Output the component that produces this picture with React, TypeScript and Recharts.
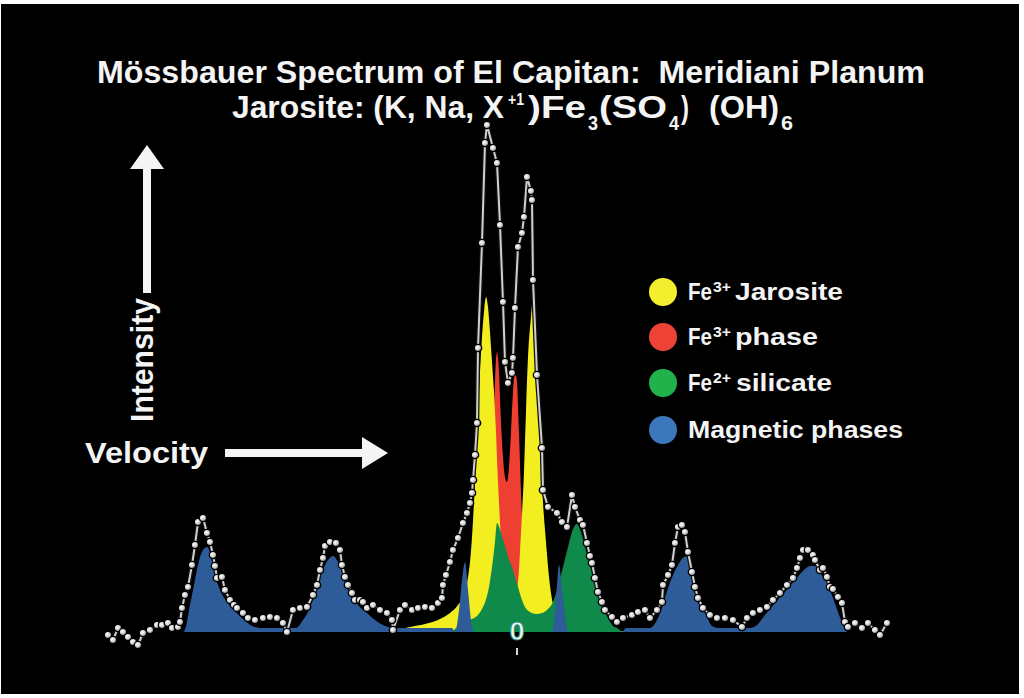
import { Area, ComposedChart, Line, XAxis, YAxis } from "recharts"

// Doppler velocity (mm/s) and counts above baseline
const VELOCITY = [
  -10.2, -10.075, -9.95, -9.825, -9.7, -9.575, -9.45, -9.325, -9.15, -8.975,
  -8.85, -8.7, -8.6, -8.45, -8.4, -8.35, -8.275, -8.2, -8.1, -8.025,
  -7.95, -7.825, -7.725, -7.65, -7.575, -7.525, -7.475, -7.35, -7.275, -7.15,
  -7.05, -6.975, -6.825, -6.7, -6.525, -6.325, -6.15, -5.975, -5.825, -5.725,
  -5.575, -5.4, -5.225, -5.075, -4.975, -4.9, -4.825, -4.775, -4.65, -4.5,
  -4.4, -4.35, -4.275, -4.2, -4.1, -4.025, -3.9, -3.825, -3.725, -3.575,
  -3.4, -3.225, -3.1, -3.075, -2.9, -2.775, -2.6, -2.45, -2.275, -2.1,
  -1.95, -1.85, -1.825, -1.75, -1.65, -1.575, -1.45, -1.325, -1.225, -1.15,
  -1.1, -1.075, -1.025, -0.975, -0.95, -0.85, -0.775, -0.725, -0.575, -0.475,
  -0.4, -0.325, -0.275, -0.2, -0.1, -0.075, -0.025, 0.05, 0.15, 0.2,
  0.275, 0.375, 0.4, 0.425, 0.525, 0.65, 0.675, 0.8, 1.025, 1.15,
  1.275, 1.4, 1.475, 1.6, 1.675, 1.775, 1.85, 1.9, 1.975, 2.05,
  2.15, 2.225, 2.4, 2.525, 2.675, 2.9, 3.05, 3.225, 3.35, 3.525,
  3.65, 3.675, 3.8, 3.9, 3.975, 4.05, 4.15, 4.225, 4.3, 4.4,
  4.475, 4.55, 4.675, 4.85, 5.025, 5.225, 5.425, 5.65, 5.775, 5.925,
  6.1, 6.275, 6.425, 6.6, 6.775, 6.925, 7.025, 7.1, 7.175, 7.3,
  7.425, 7.475, 7.6, 7.675, 7.775, 7.85, 7.925, 8.05, 8.15, 8.225,
  8.3, 8.475, 8.65, 8.8, 8.975, 9.1, 9.275,
]
const COUNTS = [
  -0.6, -1.6, 0.8, 0, -1, -2, -2.6, -0.2, 0.4, 1.4,
  1.4, 1.8, 0.8, 1, 2, 4.8, 7.4, 9, 13.4, 17.4,
  22, 22.8, 19.8, 18, 15.4, 13.2, 10.8, 11, 8.4, 6.4,
  5.4, 4.8, 3.8, 2.8, 2.4, 2.8, 3, 2.8, 1.8, 0,
  4.4, 4.8, 5, 7.4, 9.4, 12.4, 14.8, 17.2, 18, 17.8,
  16.4, 13.4, 11, 9.4, 7.8, 6.4, 6.4, 6, 4.8, 5.4,
  4.4, 3.8, 2.4, 0.4, 4.4, 5.4, 4.4, 4.8, 5, 4.8,
  5.8, 6.8, 9.4, 11.4, 14, 16.4, 18.8, 21.8, 23.8, 25.8,
  27.8, 30.4, 35.4, 41.8, 56.8, 77.8, 97.8, 101.4, 96.8, 93.8,
  81.4, 66, 54, 49.8, 51.8, 54.8, 64.8, 77, 79.8, 83,
  91, 88.2, 86.4, 70.4, 51.4, 36.8, 28.4, 25, 23.8, 22,
  21, 27.4, 25, 22.4, 21.4, 17.8, 15.2, 13.8, 10.8, 8,
  6, 4.4, 3, 2, 2.8, 3.4, 4, 4.4, 2.8, 4.4,
  6, 9.4, 11.4, 13.4, 17.8, 21, 21.4, 20, 16, 12,
  9, 6.8, 4.8, 3.4, 2.8, 2.8, 2.4, 1, 2.8, 3.8,
  4.4, 5, 6.4, 7.8, 9.4, 10.8, 12.8, 14.8, 16.4, 16.4,
  15.4, 14.4, 12.4, 12.8, 11, 9, 8.6, 7, 5.8, 2,
  1, 1.8, 0.8, 1.8, 0.4, -0.6, 1.8,
]

// fitted sub-spectra
const MAGNETIC_V = [
  -8.3, -8.25, -8.15, -8.05, -7.95, -7.825, -7.725, -7.625, -7.525, -7.4, -7.2, -7.0, -6.8, -6.6, -6.4,
  -5.5, -5.325, -5.15, -5.0, -4.85, -4.7, -4.575, -4.45, -4.325, -4.15, -3.95, -3.725, -3.525, -3.275, -3.025,
  -1.6, -1.525, -1.425, -1.35, -1.275, -1.2, -1.125, -1.05,
  0.9, 0.975, 1.025, 1.075, 1.15, 1.225, 1.3,
  2.65, 2.75,
  3.35, 3.525, 3.675, 3.8, 3.925, 4.05, 4.2, 4.3, 4.4, 4.525, 4.65, 4.775, 4.9, 5.05,
  5.85, 6.025, 6.225, 6.475, 6.725, 6.975, 7.175, 7.35, 7.475, 7.6, 7.775, 7.925, 8.05, 8.175, 8.275,
]
const MAGNETIC_I = [
  0, 1.2, 5.4, 9.4, 13.4, 16.4, 17, 15.2, 11.4, 8.4, 5.8, 4, 2.4, 1.2, 0.8,
  0.8, 2.4, 4.8, 8.4, 12, 14.4, 15.2, 14, 11.4, 8, 5.4, 3.8, 2.4, 1.2, 0.8,
  0.8, 0, 4.4, 10.4, 14, 8.4, 2.4, 0,
  0, 4.4, 9.4, 13.4, 8.4, 3.4, 0,
  0, 0.8,
  0.8, 2.4, 5.4, 8.8, 11.4, 13.4, 15, 15.2, 12, 8.4, 5.4, 3, 1.2, 0.8,
  0.8, 1.4, 3.4, 5.8, 8, 10.4, 12.2, 13.2, 13.2, 11.8, 9.8, 6.8, 4, 1.4, 0,
]

const JAROSITE_V = [
  -3.275, -3.025, -2.65, -2.275, -1.9, -1.65, -1.45, -1.275, -1.2, -1.15,
  -1.1, -1.05, -1.0, -0.95, -0.9, -0.85, -0.8, -0.75, -0.7, -0.65,
  -0.6, -0.55, -0.5, -0.45, -0.4, -0.35, -0.275, -0.2, -0.1, -0.025,
  0.05, 0.125, 0.2, 0.25, 0.3, 0.375, 0.425, 0.475, 0.525, 0.575,
  0.625, 0.675, 0.75, 0.825, 0.9, 1.0, 1.15, 1.4, 1.85, 2.35,
  2.85,
]
const JAROSITE_I = [
  0, 0.4, 1.0, 1.6, 2.6, 3.8, 5.4, 8, 11, 14,
  19, 26, 34, 44, 52, 59, 64, 67, 65, 60,
  54, 48, 40, 30, 22, 15, 10, 7.5, 6.4, 7.5,
  10, 20, 32, 44, 55, 63, 66.8, 63, 54, 44,
  34, 26, 18, 11, 6.5, 4.2, 3, 1.8, 0.8, 0.3,
  0,
]

const FE3_PHASE_V = [
  -1.9, -1.15, -0.9, -0.75, -0.65, -0.575, -0.525, -0.475, -0.425, -0.375,
  -0.325, -0.275, -0.225, -0.175, -0.125, -0.075, -0.025, 0.025, 0.075, 0.125,
  0.2, 0.3, 0.475, 0.725, 1.1, 1.6, 2.1,
]
const FE3_PHASE_I = [
  0, 3, 6, 10, 18, 35, 50, 56, 52, 42,
  35, 31, 30, 33, 40, 48, 52, 50, 40, 28,
  16, 9, 5, 3, 1.6, 0.8, 0,
]

const SILICATE_V = [
  -1.6, -1.5, -1.35, -1.2, -1.05, -0.95, -0.85, -0.75, -0.675, -0.6,
  -0.525, -0.475, -0.4, -0.325, -0.25, -0.175, -0.1, -0.025, 0.05, 0.125,
  0.225, 0.35, 0.5, 0.65, 0.8, 0.925, 1.05, 1.175, 1.3, 1.4,
  1.525, 1.625, 1.725, 1.825, 1.925, 2.025, 2.125, 2.225, 2.325, 2.425,
  2.525, 2.65,
]
const SILICATE_I = [
  0, 0.8, 1.6, 2.2, 2.8, 3.4, 4.6, 6.5, 9, 13,
  18, 21.8, 20.5, 18.5, 16.5, 14.5, 13, 11, 9, 7,
  5, 4, 3.6, 3.8, 4.6, 6, 9, 13, 17, 20,
  21.6, 20, 17, 14, 11.4, 8.4, 6, 4, 2.4, 1.2,
  0.8, 0,
]

const VELOCITY_TICKS = [0]

const LEGEND_ITEMS = [
  { color: "#f4ef2e", sup: "3+", text: "Jarosite" },
  { color: "#ef4236", sup: "3+", text: "phase" },
  { color: "#22b24c", sup: "2+", text: "silicate" },
  { color: "#3c77bb", sup: "", text: "Magnetic phases" },
]

const FONT = '"Liberation Sans", Arial, Helvetica, sans-serif'

const rows = (vs: number[], is: number[]) => vs.map((v, k) => ({ v, i: is[k] }))

const spectrum = rows(VELOCITY, COUNTS)
const magnetic = rows(MAGNETIC_V, MAGNETIC_I)
const jarosite = rows(JAROSITE_V, JAROSITE_I)
const fe3Phase = rows(FE3_PHASE_V, FE3_PHASE_I)
const silicate = rows(SILICATE_V, SILICATE_I)

const renderDot = (p: any) => {
  if (p.cx == null || p.cy == null) return <g key={`pt-${p.index}`} />
  return (
    <circle
      key={`pt-${p.index}`}
      cx={p.cx}
      cy={p.cy}
      r={3.7}
      fill="url(#dotShade)"
      stroke="#000"
      strokeWidth={1.3}
    />
  )
}

function ZeroTick({ x, y, payload }: any) {
  return (
    <g>
      <text
        x={x + 1}
        y={y - 12}
        textAnchor="middle"
        fontFamily={FONT}
        fontWeight={700}
        fontSize={26}
        textLength={15}
        lengthAdjust="spacingAndGlyphs"
        fill="#f2faf6"
        stroke="#2f8c78"
        strokeWidth={1}
      >
        {payload.value}
      </text>
      <line x1={x + 1} x2={x + 1} y1={y - 4} y2={y + 3} stroke="#d6d6d6" strokeWidth={2} />
    </g>
  )
}

const white = "#f4f4f4"

export default function App() {
  const legendRows = [292, 337, 383, 430]
  const restX = [735, 735, 736, 688]
  const restW = [108, 83, 96, 215]
  return (
    <div
      style={{
        position: "fixed",
        left: 0,
        top: 0,
        width: 1024,
        height: 698,
        background: "#fff",
        overflow: "hidden",
      }}
    >
      <div
        style={{ position: "absolute", left: 1, top: 4, width: 1018, height: 690, background: "#000" }}
      />
      <div style={{ position: "absolute", left: 0, top: 0 }}>
        <ComposedChart
          width={1024}
          height={698}
          margin={{ top: 100, right: 124, bottom: 45, left: 100 }}
        >
          <XAxis
            dataKey="v"
            type="number"
            domain={[-10.4, 9.6]}
            allowDataOverflow
            ticks={VELOCITY_TICKS}
            interval={0}
            height={1}
            axisLine={false}
            tickLine={false}
            tickSize={0}
            tickMargin={0}
            tick={<ZeroTick />}
          />
          <YAxis type="number" domain={[-4, 106.4]} allowDataOverflow hide />
          <Area
            data={fe3Phase}
            dataKey="i"
            type="monotone"
            baseValue={0}
            fill="#ef3e32"
            fillOpacity={1}
            stroke="none"
            isAnimationActive={false}
          />
          <Area
            data={jarosite}
            dataKey="i"
            type="monotone"
            baseValue={0}
            fill="#f3ee20"
            fillOpacity={1}
            stroke="none"
            isAnimationActive={false}
          />
          <Area
            data={silicate}
            dataKey="i"
            type="monotone"
            baseValue={0}
            fill="#0f8a4a"
            fillOpacity={1}
            stroke="none"
            isAnimationActive={false}
          />
          <Area
            data={magnetic}
            dataKey="i"
            type="monotone"
            baseValue={0}
            fill="#2e5c99"
            fillOpacity={1}
            stroke="none"
            isAnimationActive={false}
          />
          <Line
            data={spectrum}
            dataKey="i"
            type="linear"
            stroke="#101010"
            strokeWidth={4.5}
            dot={false}
            activeDot={false}
            isAnimationActive={false}
          />
          <Line
            data={spectrum}
            dataKey="i"
            type="linear"
            stroke="#cfcfcf"
            strokeWidth={2}
            dot={renderDot}
            activeDot={false}
            isAnimationActive={false}
          />
        </ComposedChart>
      </div>
      <svg
        width={1024}
        height={698}
        style={{ position: "absolute", left: 0, top: 0, pointerEvents: "none" }}
        fontFamily={FONT}
        fontWeight={700}
        fill={white}
      >
        <defs>
          <radialGradient id="dotShade" cx="40%" cy="38%" r="65%">
            <stop offset="0%" stopColor="#ffffff" />
            <stop offset="55%" stopColor="#cfcfcf" />
            <stop offset="100%" stopColor="#5a5a5a" />
          </radialGradient>
        </defs>

        {/* title */}
        <text x={97} y={83} fontSize={31} textLength={828} lengthAdjust="spacingAndGlyphs" style={{ whiteSpace: "pre" }}>
          Mössbauer Spectrum of El Capitan:  Meridiani Planum
        </text>
        <text x={232} y={118} fontSize={31} textLength={272} lengthAdjust="spacingAndGlyphs">
          Jarosite: (K, Na, X
        </text>
        <text x={508} y={105} fontSize={17} textLength={16} lengthAdjust="spacingAndGlyphs">+1</text>
        <text x={528} y={118} fontSize={31} textLength={58} lengthAdjust="spacingAndGlyphs">)Fe</text>
        <text x={588} y={130} fontSize={20} textLength={10} lengthAdjust="spacingAndGlyphs">3</text>
        <text x={599} y={118} fontSize={31} textLength={68} lengthAdjust="spacingAndGlyphs">(SO</text>
        <text x={669} y={130} fontSize={20} textLength={10} lengthAdjust="spacingAndGlyphs">4</text>
        <text x={681} y={118} fontSize={31} textLength={8} lengthAdjust="spacingAndGlyphs">)</text>
        <text x={709} y={118} fontSize={31} textLength={70} lengthAdjust="spacingAndGlyphs">(OH)</text>
        <text x={781} y={130} fontSize={20} textLength={12} lengthAdjust="spacingAndGlyphs">6</text>

        {/* axis hints */}
        <rect x={143} y={165} width={8} height={128} />
        <polygon points="130,169 164,169 147,145" />
        <text
          transform="translate(153,360) rotate(-90)"
          textAnchor="middle"
          fontSize={31}
          textLength={124}
          lengthAdjust="spacingAndGlyphs"
        >
          Intensity
        </text>
        <text x={85} y={463} fontSize={29} textLength={123} lengthAdjust="spacingAndGlyphs">
          Velocity
        </text>
        <rect x={225} y={449} width={140} height={8} />
        <polygon points="362,437 362,469 388,453" />

        {/* legend */}
        {LEGEND_ITEMS.map((item, k) => {
          const cy = legendRows[k]
          return (
            <g key={item.text}>
              <circle cx={663} cy={cy} r={14} fill={item.color} />
              {item.sup ? (
                <>
                  <text x={688} y={cy + 8} fontSize={23} textLength={24} lengthAdjust="spacingAndGlyphs">Fe</text>
                  <text x={713} y={cy} fontSize={15} textLength={18} lengthAdjust="spacingAndGlyphs">{item.sup}</text>
                </>
              ) : null}
              <text x={restX[k]} y={cy + 8} fontSize={23} textLength={restW[k]} lengthAdjust="spacingAndGlyphs">
                {item.text}
              </text>
            </g>
          )
        })}
      </svg>
    </div>
  )
}
